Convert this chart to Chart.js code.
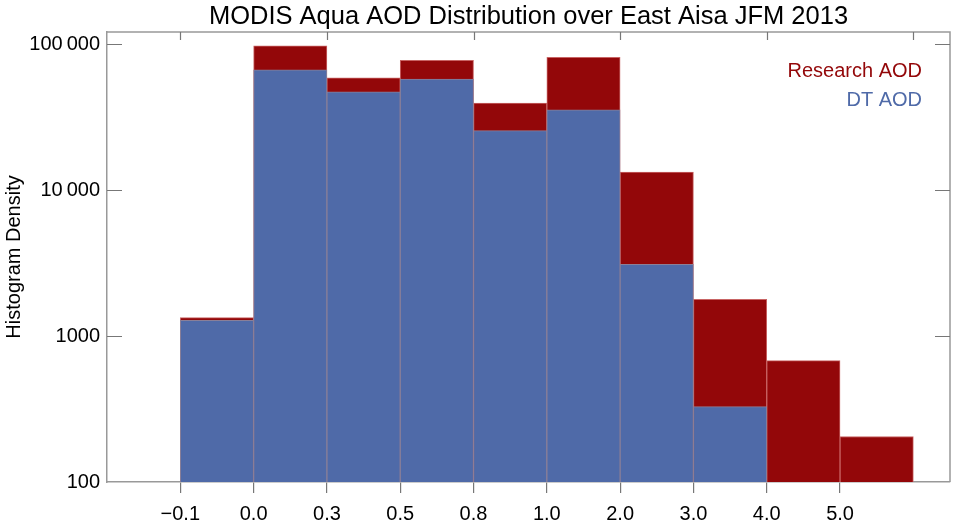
<!DOCTYPE html>
<html>
<head>
<meta charset="utf-8">
<script src="https://cdn.jsdelivr.net/npm/chart.js@4/dist/chart.umd.min.js"></script>
<style>
  html, body { margin: 0; padding: 0; background: #fff; }
</style>
</head>
<body>
<canvas id="canvas" width="954" height="522"></canvas>
<script>
// AOD bin edges (labels under each bin edge)
const binEdges = ['\u22120.1', '0.0', '0.3', '0.5', '0.8', '1.0', '2.0', '3.0', '4.0', '5.0'];
const binIndex = [0, 1, 2, 3, 4, 5, 6, 7, 8, 9];
const researchAOD = [1340, 97800, 59000, 77700, 39600, 81500, 13300, 1790, 680, 205];
const dtAOD = [1285, 66900, 47300, 57800, 25600, 35600, 3110, 329, null, null];
const yTicks = [100, 1000, 10000, 100000];
const seriesNames = ['Research AOD', 'DT AOD'];
const seriesColors = ['#930709', '#4f6aa8'];
const chartTitle = 'MODIS Aqua AOD Distribution over East Aisa JFM 2013';

const FONT = 'Liberation Sans, Arial, Helvetica, sans-serif';
const frameColor = '#999';

function toPoints(vals) {
  return binIndex.map(i => ({ x: i + 0.5, y: vals[i] }));
}

function fmt(v) {
  if (v >= 10000) {
    const s = String(v);
    return s.slice(0, s.length - 3) + '\u2009' + s.slice(-3);
  }
  return String(v);
}

// title over the plot box, inward ticks, frame top/right and the text legend
const framePlugin = {
  id: 'frame',
  afterDraw(chart) {
    const ctx = chart.ctx;
    const a = chart.chartArea;
    const x = chart.scales.x, y = chart.scales.y;
    ctx.save();
    ctx.strokeStyle = frameColor;
    ctx.lineWidth = 1.5;
    ctx.beginPath();
    ctx.moveTo(a.left, a.top); ctx.lineTo(a.right, a.top); ctx.lineTo(a.right, a.bottom);
    ctx.stroke();
    ctx.lineWidth = 1.2;
    ctx.strokeStyle = '#777';
    ctx.beginPath();
    yTicks.forEach(v => {
      const py = Math.round(y.getPixelForValue(v)) + 0.5;
      if (py < a.bottom - 1) {
        ctx.moveTo(a.left, py); ctx.lineTo(a.left + 15, py);
        ctx.moveTo(a.right, py); ctx.lineTo(a.right - 15, py);
      }
    });
    for (let i = 0; i <= 10; i += 2) {
      const px = Math.round(x.getPixelForValue(i)) + 0.5;
      ctx.moveTo(px, a.top); ctx.lineTo(px, a.top + 8);
    }
    ctx.stroke();

    ctx.fillStyle = '#000';
    ctx.font = '25.5px ' + FONT;
    ctx.textAlign = 'center';
    ctx.textBaseline = 'middle';
    ctx.fillText(chartTitle, (a.left + a.right) / 2, 16.5);

    ctx.font = '20px ' + FONT;
    ctx.textAlign = 'right';
    seriesNames.forEach((n, i) => {
      ctx.fillStyle = seriesColors[i];
      ctx.fillText(n, a.right - 28, 71 + i * 29);
    });
    ctx.restore();
  }
};

const ctx = document.getElementById('canvas').getContext('2d');
const myChart = new Chart(ctx, {
  type: 'bar',
  data: {
    datasets: [
      {
        label: seriesNames[1],
        data: toPoints(dtAOD),
        backgroundColor: seriesColors[1],
        borderColor: '#8a7f98',
        borderWidth: 1,
        order: 1
      },
      {
        label: seriesNames[0],
        data: toPoints(researchAOD),
        backgroundColor: seriesColors[0],
        borderColor: '#c86464',
        borderWidth: 1,
        order: 2
      }
    ]
  },
  options: {
    responsive: false,
    devicePixelRatio: 1,
    animation: false,
    grouped: false,
    barPercentage: 1,
    categoryPercentage: 1,
    layout: { padding: { left: 0, right: 4, top: 32, bottom: 0 } },
    plugins: {
      legend: { display: false },
      tooltip: { enabled: false },
      title: { display: false }
    },
    scales: {
      x: {
        type: 'linear',
        min: -1,
        max: 10.5,
        offset: false,
        afterBuildTicks: s => { s.ticks = binIndex.map(i => ({ value: i })); },
        afterFit: s => { s.height = 40; },
        ticks: {
          autoSkip: false,
          maxRotation: 0,
          color: '#000',
          padding: 9,
          font: { family: FONT, size: 20 },
          callback: v => binEdges[v]
        },
        grid: { offset: false, drawOnChartArea: false, drawTicks: true, tickLength: 11, color: '#777', lineWidth: 1.2 },
        border: { display: true, color: frameColor, width: 1.5 }
      },
      y: {
        type: 'logarithmic',
        min: 100,
        max: 121500,
        afterBuildTicks: s => { s.ticks = yTicks.map(v => ({ value: v })); },
        afterFit: s => { s.width = 107; },
        ticks: {
          color: '#000',
          padding: 7,
          font: { family: FONT, size: 20 },
          callback: v => fmt(v)
        },
        grid: { drawOnChartArea: false, drawTicks: false },
        border: { display: true, color: frameColor, width: 1.5 },
        title: {
          display: true,
          text: 'Histogram Density',
          color: '#000',
          font: { family: FONT, size: 20 },
          padding: { top: 2, bottom: 0 }
        }
      }
    }
  },
  plugins: [framePlugin]
});
</script>
</body>
</html>
